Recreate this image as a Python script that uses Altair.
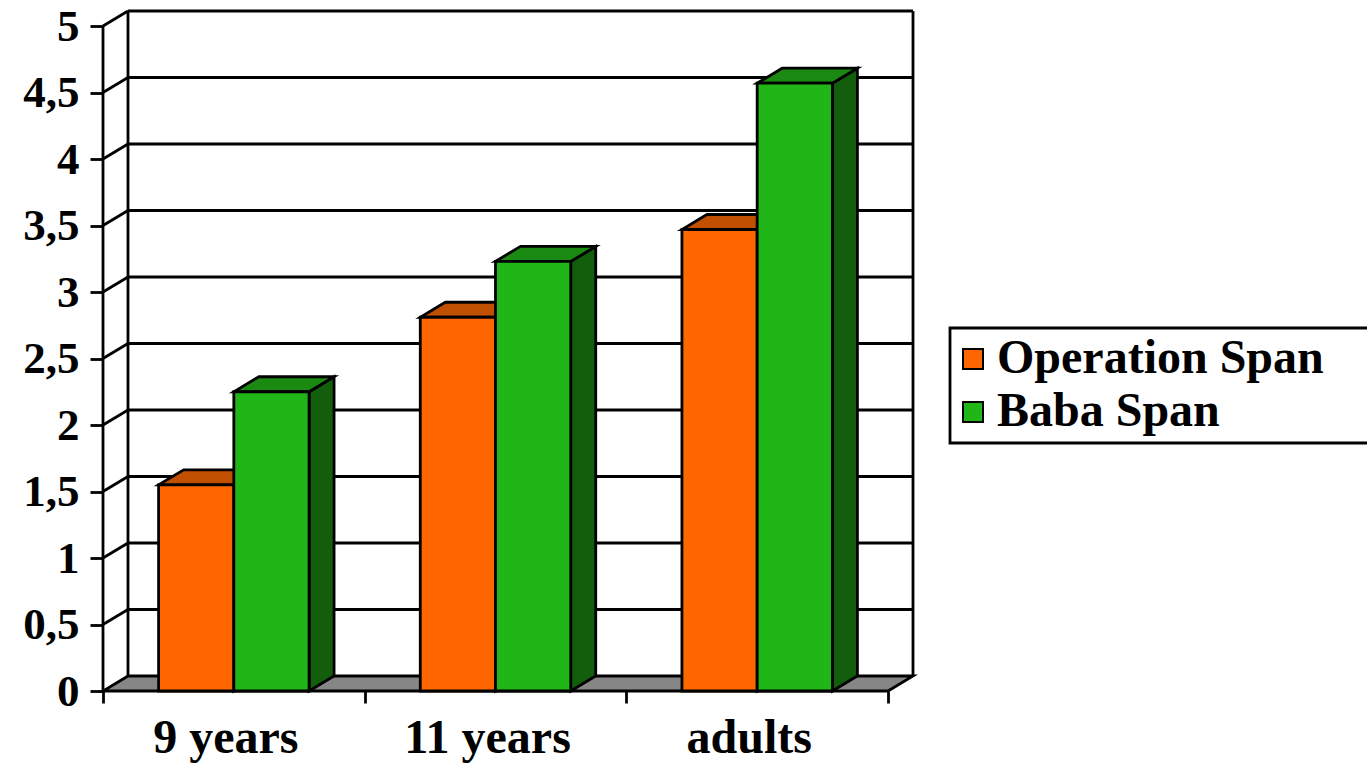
import altair as alt
import pandas as pd

# ---- chart values -------------------------------------------------------
categories = ["9 years", "11 years", "adults"]
series_names = ["Operation Span", "Baba Span"]
operation_span = [1.55, 2.81, 3.47]
baba_span = [2.25, 3.23, 4.57]
y_ticks = [0, 0.5, 1, 1.5, 2, 2.5, 3, 3.5, 4, 4.5, 5]

front_colors = ["#FF6600", "#21B618"]
top_colors = ["#C05000", "#1A8A12"]
side_colors = ["#963E00", "#135E0D"]
floor_color = "#868686"

# ---- pseudo-3D geometry (in scale units) -------------------------------
GAP = 0.2125        # space before the first bar of a group
BAR_W = 0.2875      # width of one bar
DX = 0.0955         # depth of the box along x
DY = 0.1128         # depth of the box along y
N = len(categories)
X_MAX = N + DX
Y_MAX = max(y_ticks) + DY

FONT = "Liberation Serif"
LW = 2.8
BLANK = "\u2800"    # blank glyph that widens the legend box to the right edge

front_rows, top_rows, side_rows = [], [], []
for i, cat in enumerate(categories):
    for j, (name, vals) in enumerate(zip(series_names, [operation_span, baba_span])):
        v = vals[i]
        x0 = i + GAP + j * BAR_W
        x1 = x0 + BAR_W
        bar = f"{name} / {cat}"
        front_rows.append(dict(bar=bar, series=name, x0=x0, x1=x1, base=0.0, value=v))
        top_rows.append(dict(bar=bar, y=v, xa=x0, xb=x1, fill=top_colors[j]))
        top_rows.append(dict(bar=bar, y=v + DY, xa=x0 + DX, xb=x1 + DX, fill=top_colors[j]))
        side_rows.append(dict(bar=bar, x=x1, ya=0.0, yb=v, fill=side_colors[j]))
        side_rows.append(dict(bar=bar, x=x1 + DX, ya=DY, yb=v + DY, fill=side_colors[j]))

front_df = pd.DataFrame(front_rows)
top_df = pd.DataFrame(top_rows)
side_df = pd.DataFrame(side_rows)

floor_df = pd.DataFrame([
    dict(part="floor", y=0.0, xa=0.0, xb=float(N), fill=floor_color),
    dict(part="floor", y=DY, xa=DX, xb=N + DX, fill=floor_color),
])

# wall lines: back gridlines, side diagonals, wall edges and front axis
line_rows = []
for v in y_ticks[1:]:
    line_rows.append(dict(xa=DX, xb=N + DX, ya=v + DY, yb=v + DY))
    line_rows.append(dict(xa=0.0, xb=DX, ya=v, yb=v + DY))
line_rows.append(dict(xa=DX, xb=DX, ya=DY, yb=max(y_ticks) + DY))
line_rows.append(dict(xa=N + DX, xb=N + DX, ya=DY, yb=max(y_ticks) + DY))
line_rows.append(dict(xa=0.0, xb=0.0, ya=0.0, yb=max(y_ticks)))
lines_df = pd.DataFrame(line_rows)

label_df = pd.DataFrame(dict(cat=categories, xc=[i + 0.5 for i in range(N)], y0=[0.0] * N))

# ---- scales and axes ----------------------------------------------------
XS = alt.Scale(domain=[0, X_MAX], nice=False, zero=False)
YS = alt.Scale(domain=[0, Y_MAX], nice=False, zero=False)

X_AXIS = alt.Axis(values=list(range(N + 1)), labels=False, title=None, grid=False,
                  domain=False, ticks=True, tickSize=12, tickWidth=LW, tickColor="black")
Y_AXIS = alt.Axis(values=y_ticks, title=None, grid=False, domain=False,
                  tickSize=13, tickWidth=LW, tickColor="black",
                  labelExpr="replace(toString(datum.value), '.', ',')",
                  labelFont=FONT, labelFontSize=45, labelFontWeight="bold",
                  labelColor="black", labelPadding=11)


def xq(field):
    return alt.X(f"{field}:Q", scale=XS, axis=X_AXIS)


def yq(field):
    return alt.Y(f"{field}:Q", scale=YS, axis=Y_AXIS)


floor = alt.Chart(floor_df).mark_area(
    orient="horizontal", stroke="black", strokeWidth=LW, strokeJoin="miter"
).encode(
    y=yq("y"), x=xq("xa"), x2="xb",
    fill=alt.Fill("fill:N", scale=None), detail="part:N",
)

walls = alt.Chart(lines_df).mark_rule(color="black", strokeWidth=LW).encode(
    x=xq("xa"), x2="xb", y=yq("ya"), y2="yb",
)

sides = alt.Chart(side_df).mark_area(
    orient="vertical", stroke="black", strokeWidth=LW, strokeJoin="miter"
).encode(
    x=xq("x"), y=yq("ya"), y2="yb",
    fill=alt.Fill("fill:N", scale=None), detail="bar:N",
)

tops = alt.Chart(top_df).mark_area(
    orient="horizontal", stroke="black", strokeWidth=LW, strokeJoin="miter"
).encode(
    y=yq("y"), x=xq("xa"), x2="xb",
    fill=alt.Fill("fill:N", scale=None), detail="bar:N",
)

fronts = alt.Chart(front_df).mark_rect(stroke="black", strokeWidth=LW).encode(
    x=xq("x0"), x2="x1", y=yq("base"), y2="value",
    color=alt.Color(
        "series:N",
        scale=alt.Scale(domain=series_names, range=front_colors),
        legend=alt.Legend(
            title=None, orient="none", legendX=847, legendY=317,
            fillColor="white", strokeColor="black",
            padding=7, rowPadding=5, symbolOffset=-8, labelOffset=0,
            symbolType="square", symbolSize=400,
            symbolStrokeColor="black", symbolStrokeWidth=2,
            labelFont=FONT, labelFontSize=48, labelFontWeight="bold",
            labelColor="black", labelLimit=2000,
            labelExpr="datum.label + '" + BLANK * 4 + "'",
        ),
    ),
)

cat_labels = alt.Chart(label_df).mark_text(
    font=FONT, fontSize=48, fontWeight="bold", color="black",
    baseline="alphabetic", align="center", dy=62, dx=-8,
).encode(x=xq("xc"), y=yq("y0"), text="cat:N")

chart = alt.layer(floor, walls, sides, tops, fronts, cat_labels).properties(
    width=810, height=680,
    autosize=alt.AutoSizeParams(type="none"),
    padding={"left": 103, "top": 11, "right": 454, "bottom": 72},
    background="white",
).configure_view(stroke=None).configure_legend(strokeWidth=LW)

chart.save("out.html", embed_options={"renderer": "svg", "actions": False})
